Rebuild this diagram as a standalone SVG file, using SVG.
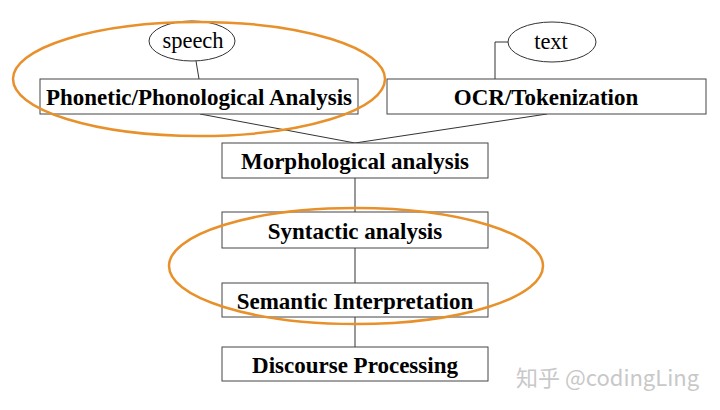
<svg xmlns="http://www.w3.org/2000/svg" width="720" height="410" viewBox="0 0 720 410">
<style>
.box{fill:#fff;stroke:#444;stroke-width:1}
.ell{fill:#fff;stroke:#333;stroke-width:1}
.lbl{font-family:"Liberation Serif","Times New Roman",serif;font-weight:bold;font-size:23px;fill:#000;text-anchor:middle}
.src{font-family:"Liberation Serif","Times New Roman",serif;font-size:22.5px;fill:#000;text-anchor:middle}
.conn{stroke:#333;stroke-width:1;fill:none}
.hl{fill:none;stroke:#E8902A;stroke-width:2.5}
.wm{font-family:"Noto Sans CJK SC","Noto Sans",sans-serif;font-size:22px;fill:#c8c8c8}
</style>
<rect width="720" height="410" fill="#fff"/>
<g id="connectors">
<line class="conn" x1="196" y1="61" x2="199" y2="79"/>
<polyline class="conn" stroke="#888" points="508,42 495,42 495,79"/>
<line class="conn" x1="200" y1="114" x2="355" y2="143"/>
<line class="conn" x1="547" y1="114" x2="355" y2="143"/>
<line class="conn" x1="355" y1="178" x2="355" y2="212"/>
<line class="conn" x1="355" y1="248" x2="355" y2="283"/>
<line class="conn" x1="355" y1="317" x2="355" y2="347"/>
</g>
<g id="speech"><ellipse class="ell" cx="192" cy="41" rx="43" ry="20"/><text class="src" x="193" y="48">speech</text></g>
<g id="text"><ellipse class="ell" cx="552" cy="42" rx="44" ry="20"/><text class="src" x="551" y="49">text</text></g>
<g id="phonetic"><rect class="box" x="40" y="79" width="318" height="35"/><text class="lbl" x="199" y="105">Phonetic/Phonological Analysis</text></g>
<g id="ocr"><rect class="box" x="387" y="79" width="319" height="35"/><text class="lbl" x="546" y="105">OCR/Tokenization</text></g>
<g id="morph"><rect class="box" x="222" y="143" width="266" height="35"/><text class="lbl" x="355" y="169">Morphological analysis</text></g>
<g id="syntactic"><rect class="box" x="222" y="212" width="266" height="36"/><text class="lbl" x="355" y="239">Syntactic analysis</text></g>
<g id="semantic"><rect class="box" x="222" y="283" width="266" height="34"/><text class="lbl" x="355" y="309">Semantic Interpretation</text></g>
<g id="discourse"><rect class="box" x="222" y="347" width="266" height="34"/><text class="lbl" x="355" y="373">Discourse Processing</text></g>
<ellipse class="hl" cx="199" cy="79" rx="186" ry="57"/>
<ellipse class="hl" cx="356" cy="266" rx="187" ry="58"/>
<text class="wm" x="516" y="386">知乎 @codingLing</text>
</svg>
